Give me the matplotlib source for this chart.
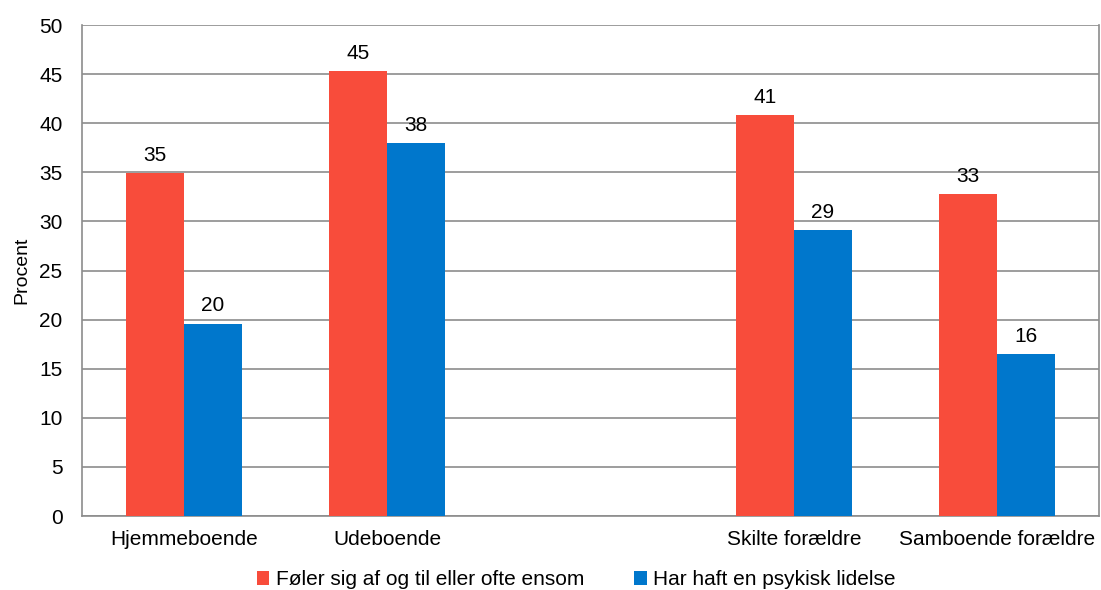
import numpy as np
import matplotlib
matplotlib.use("Agg")
import matplotlib.pyplot as plt

# --- data ---
categories = ["Hjemmeboende", "Udeboende", "", "Skilte forældre", "Samboende forældre"]
series_names = ["Føler sig af og til eller ofte ensom", "Har haft en psykisk lidelse"]
ensom = [34.9, 45.3, np.nan, 40.8, 32.8]
lidelse = [19.6, 38.0, np.nan, 29.1, 16.5]
yticks = list(range(0, 55, 5))

RED = "#F84C3B"
BLUE = "#0077CC"
GRID = "#8C8C8C"
FS = 15

plt.rcParams["font.family"] = ["Liberation Sans", "DejaVu Sans"]

fig = plt.figure(figsize=(11.01, 5.90), dpi=100)
ax = fig.add_axes([0.0745, 0.1254, 0.9235, 0.8322])

x = np.arange(len(categories))
w = 0.285
b1 = ax.bar(x - w / 2, ensom, w, color=RED, label=series_names[0], zorder=3)
b2 = ax.bar(x + w / 2, lidelse, w, color=BLUE, label=series_names[1], zorder=3)

# value labels above each bar
for bars, vals in [(b1, ensom), (b2, lidelse)]:
    for rect, v in zip(bars, vals):
        if np.isnan(v):
            continue
        ax.annotate(f"{v:.0f}", (rect.get_x() + rect.get_width() / 2, v),
                    xytext=(0, 6), textcoords="offset points",
                    ha="center", va="bottom", fontsize=FS)

ax.set_xlim(-0.5, len(categories) - 0.5)
ax.set_ylim(0, 50)
ax.set_yticks(yticks)
ax.set_xticks(x)
ax.set_xticklabels(categories, fontsize=FS)
ax.tick_params(axis="y", labelsize=FS, length=0, pad=14)
ax.tick_params(axis="x", length=0, pad=10)
ax.set_ylabel("Procent", fontsize=14, labelpad=6)

ax.yaxis.grid(True, color=GRID, linewidth=1.2, zorder=0)
for side in ["left", "bottom", "right", "top"]:
    ax.spines[side].set_color(GRID)
    ax.spines[side].set_linewidth(1.2)
ax.spines["top"].set_visible(False)

ax.legend(loc="center", bbox_to_anchor=(0.486, -0.13), ncol=2,
          frameon=False, fontsize=FS, handlelength=0.6, handleheight=0.6,
          handletextpad=0.3, columnspacing=2.4, borderpad=0)

fig.savefig("out.png", dpi=100)
